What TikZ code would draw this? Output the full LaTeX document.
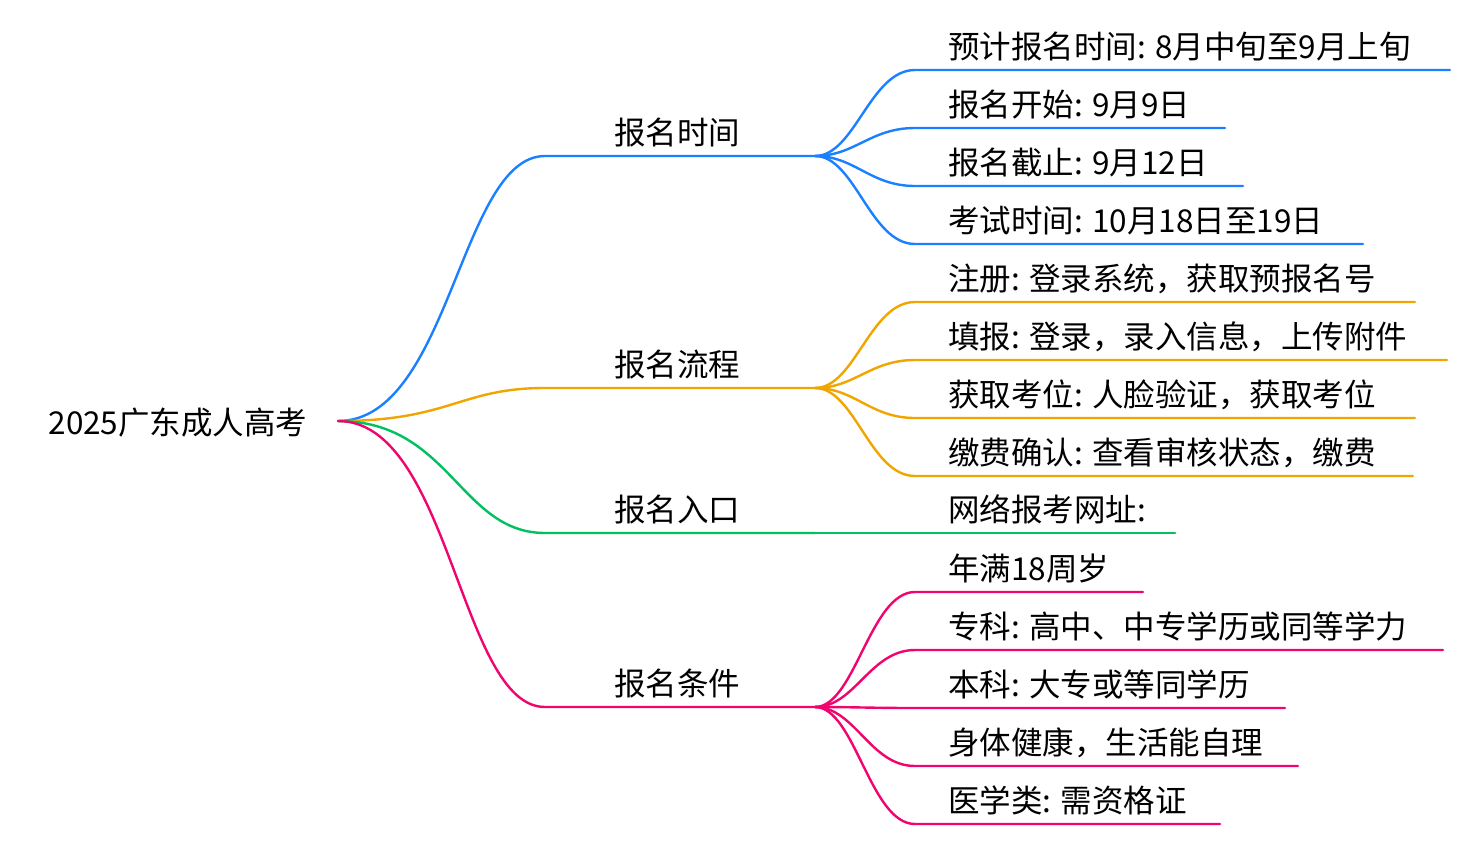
\documentclass[tikz,border=0pt]{standalone}
\usepackage{fontspec}
\setmainfont{Noto Sans CJK SC}
\definecolor{cb}{HTML}{1A80FF}
\definecolor{co}{HTML}{F0A500}
\definecolor{cg}{HTML}{00C060}
\definecolor{cp}{HTML}{F0046E}
\begin{document}
\begin{tikzpicture}[x=1pt,y=-1pt,
  lbl/.style={anchor=base west,inner sep=0pt,font=\fontsize{31.5}{36}\selectfont},
  ln/.style={line width=2.4pt,line cap=round}]
\useasboundingbox (0,0) rectangle (1470,844);
\node[anchor=base,inner sep=0pt,font=\fontsize{31.5}{36}\selectfont] (root) at (178,434) {2025广东成人高考};
\coordinate (r) at (338,421);
% branches
\foreach \n/\y/\c/\t in {b1/156/cb/报名时间,b2/388/co/报名流程,b3/533/cg/报名入口,b4/707/cp/报名条件}{
  \coordinate (\n s) at (545,\y);
  \coordinate (\n e) at (815,\y);
  \draw[ln,\c] (r) .. controls (450,421) and (460,\y) .. (\n s) -- (\n e);
  \node[anchor=base,inner sep=0pt,font=\fontsize{31.5}{36}\selectfont] (\n t) at (677,\y-12) {\t};
}
\coordinate (g2) at (1175,533);
\draw[ln,cg] (b3e) -- (g2);
\node[lbl] (g1t) at (948,521) {网络报考网址:};
% leaves
\foreach \p/\y/\xe/\c/\t in {
 b1e/70/1450/cb/预计报名时间: 8月中旬至9月上旬,
 b1e/128/1225/cb/报名开始: 9月9日,
 b1e/186/1243/cb/报名截止: 9月12日,
 b1e/244/1363/cb/考试时间: 10月18日至19日,
 b2e/302/1415/co/注册: 登录系统，获取预报名号,
 b2e/360/1447/co/填报: 登录，录入信息，上传附件,
 b2e/418/1415/co/获取考位: 人脸验证，获取考位,
 b2e/476/1413/co/缴费确认: 查看审核状态，缴费,
 b4e/592/1143/cp/年满18周岁,
 b4e/650/1443/cp/专科: 高中、中专学历或同等学力,
 b4e/708/1285/cp/本科: 大专或等同学历,
 b4e/766/1298/cp/身体健康，生活能自理,
 b4e/824/1220/cp/医学类: 需资格证}{
  \coordinate (L\y) at (915,\y);
  \coordinate (E\y) at (\xe,\y);
  \draw[ln,\c] (\p) .. controls +(40,0) and (870,\y) .. (L\y) -- (E\y);
  \node[lbl] (T\y) at (948,\y-12) {\t};
}
\end{tikzpicture}
\end{document}
